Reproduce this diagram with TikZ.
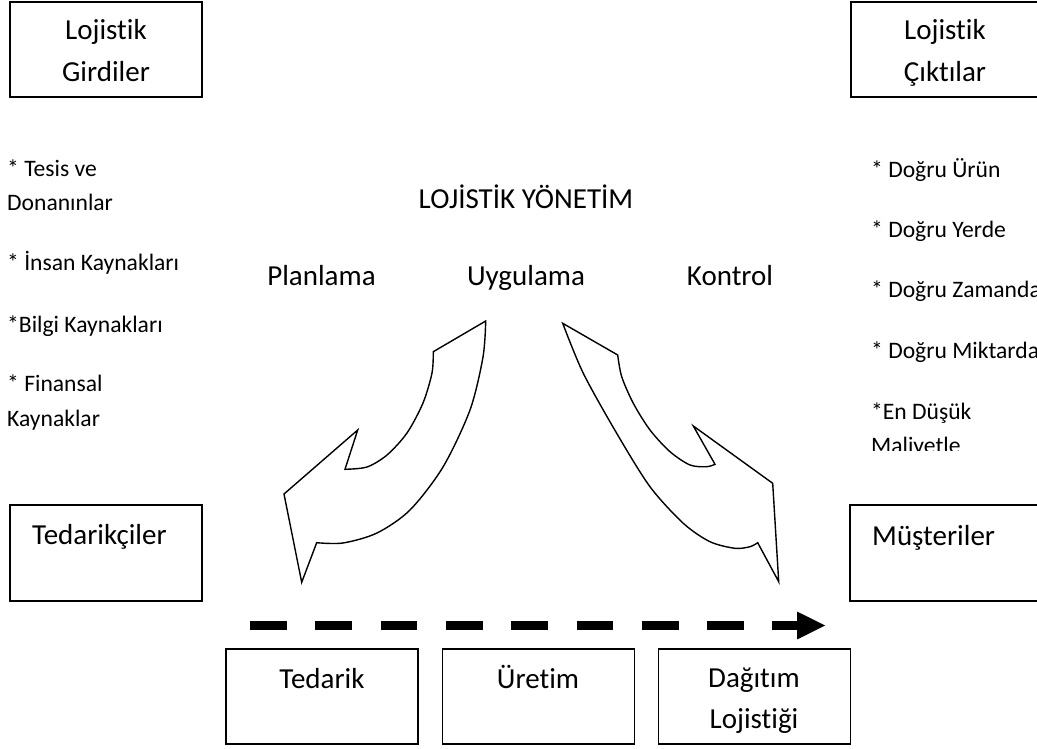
\documentclass[tikz,border=0pt]{standalone}
\usepackage{fontspec}
\setmainfont{Carlito}[RawFeature={-liga}]
\usetikzlibrary{arrows.meta}

\begin{document}
\begin{tikzpicture}[x=1pt, y=-1pt,
  box/.style={draw, line width=1.8pt, inner sep=0pt},
  big/.style={inner sep=0pt, font=\fontsize{29}{34}\selectfont},
  small/.style={inner sep=0pt, anchor=base west, font=\fontsize{23.6}{28}\selectfont},
  blockarrow/.style={draw, line width=1.4pt, line join=miter, fill=white},
  flow/.style={line width=9.3pt, dash pattern=on 36.7pt off 28.6pt,
    -{Triangle[length=29pt, width=25.6pt]}}
]
\useasboundingbox (0,0) rectangle (1037,749);

% corner boxes
\node[box, minimum width=192pt, minimum height=95pt] (girdi) at (106,49.5) {};
\node[box, minimum width=191pt, minimum height=95pt] (cikti) at (946.5,49.5) {};
\node[box, minimum width=192pt, minimum height=96pt] (tedarikci) at (106,553) {};
\node[box, minimum width=192pt, minimum height=96pt] (musteri) at (946,553) {};

\node[big, anchor=base] (girdiA) at (106,39.3) {Lojistik};
\node[big, anchor=base] (girdiB) at (106,81.7) {Girdiler};
\node[big, anchor=base] (ciktiA) at (945,39.3) {Lojistik};
\node[big, anchor=base] (ciktiB) at (945,81.7) {Çıktılar};
\node[big, anchor=base west] (tedarikciT) at (32,544) {Tedarikçiler};
\node[big, anchor=base west] (musteriT) at (872,545) {Müşteriler};

% inputs list
\node[small] (in1a) at (7,176.7) {* Tesis ve};
\node[small] (in1b) at (7,211) {Donanınlar};
\node[small] (in2) at (7,270) {* İnsan Kaynakları};
\node[small] (in3) at (7,332.3) {*Bilgi Kaynakları};
\node[small] (in4a) at (7,391.7) {* Finansal};
\node[small] (in4b) at (7,426.7) {Kaynaklar};

% outputs list, cut off by its text frame
\begin{scope}
  \clip (840,140) rectangle (1037,450);
  \node[small] (out1) at (871,177.3) {* Doğru Ürün};
  \node[small] (out2) at (871,237.7) {* Doğru Yerde};
  \node[small] (out3) at (871,297.7) {* Doğru Zamanda};
  \node[small] (out4) at (871,358.3) {* Doğru Miktarda};
  \node[small] (out5a) at (871,419.3) {*En Düşük};
  \node[small] (out5b) at (871,453.6) {Maliyetle};
\end{scope}

% management functions
\node[big, anchor=base] (yonetim) at (526,208) {LOJİSTİK YÖNETİM};
\node[big, anchor=base] (plan) at (321.5,285) {Planlama};
\node[big, anchor=base] (uygula) at (526,285) {Uygulama};
\node[big, anchor=base] (kontrol) at (730,285) {Kontrol};

% curved block arrows
\path[blockarrow] (485.7,321) -- (433.3,351.7)
  -- plot[smooth] coordinates {(433.3,351.7) (432,373) (423,403) (407,433) (387,455) (367,467) (345,469.3)}
  -- (357.7,430) -- (284,494) -- (301.7,582.3) -- (316.7,542.7)
  -- plot[smooth] coordinates {(316.7,542.7) (343,543) (377,533) (410,510) (443,467) (470,410) (483,357) (485.7,321)}
  -- cycle;
\path[blockarrow] (562.7,323.3) -- (617.7,355)
  -- plot[smooth] coordinates {(617.7,355) (621.7,376.7) (633.3,403.3) (650,430) (670,451.7) (690,465) (706.7,466.7) (715,464.3)}
  -- (693.3,426) -- (772.7,483.3) -- (778.7,581.7) -- (757.7,542.7)
  -- plot[smooth] coordinates {(757.7,542.7) (750,546.7) (735,548.3) (710,541.7) (683.3,523.3) (650,486.7) (616.7,433.3) (583.3,373.3) (562.7,323.3)}
  -- cycle;

% supply chain flow
\coordinate (flowA) at (250,625.5);
\coordinate (flowB) at (826,625.5);
\draw[flow] (flowA) -- (flowB);

\node[box, minimum width=192pt, minimum height=95pt] (tedarik) at (322,696.7) {};
\node[box, minimum width=192pt, minimum height=95pt] (uretim) at (538.5,696.7) {};
\node[box, minimum width=192pt, minimum height=95pt] (dagitim) at (754.5,696.7) {};
\node[big, anchor=base] (tedarikT) at (322,688) {Tedarik};
\node[big, anchor=base] (uretimT) at (538,688) {Üretim};
\node[big, anchor=base] (dagitimA) at (754,687.5) {Dağıtım};
\node[big, anchor=base] (dagitimB) at (754,728.5) {Lojistiği};
\end{tikzpicture}
\end{document}
